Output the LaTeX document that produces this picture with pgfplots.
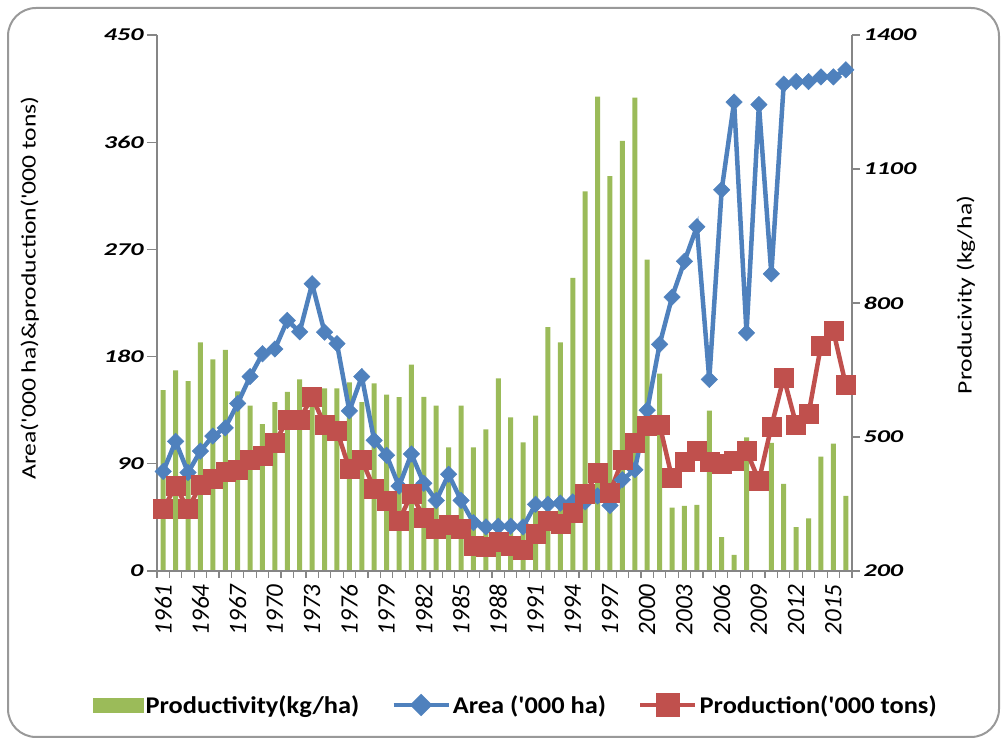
\documentclass[border=0pt]{standalone}
\usepackage{pgfplots}
\usepackage{pgfplotstable}
\pgfplotsset{compat=1.18}
\usepackage{fontspec}
\setmainfont{Carlito}
\newfontfamily\tickfont[FakeStretch=1.45]{Carlito}
\newfontfamily\labelfont[FakeStretch=1.25]{Carlito}
\newfontfamily\legendfont[FakeStretch=1.1]{Carlito}
\definecolor{bargreen}{HTML}{9BBB59}
\definecolor{areablue}{HTML}{4F81BD}
\definecolor{prodred}{HTML}{C0504D}
\definecolor{axgray}{HTML}{868686}

\pgfplotstableread{
year prod area production
1961 605 83.6 52
1962 649 108.8 71.2
1963 625 82.7 52
1964 712 100.7 72.1
1965 674 113.3 77.2
1966 695 120.2 83.3
1967 602 140.7 85
1968 570 163.2 93.2
1969 529 182.4 96.8
1970 578 186.4 107.6
1971 601 210.4 127.1
1972 629 200.8 127.1
1973 600 241.1 146.4
1974 609 200.5 122.6
1975 609 190.9 117.8
1976 622 134.4 85.7
1977 578 163.2 93.2
1978 620 109.7 69.1
1979 595 97.1 58.6
1980 589 71.2 42.1
1981 662 98.3 64.6
1982 590 73.6 45.1
1983 570 59.2 35.2
1984 477 81.2 39.1
1985 570 59.2 35.2
1986 477 40.6 21
1987 517 37 20.1
1988 631 37.6 24.9
1989 544 37.6 21
1990 488 37 18
1991 548 56 31.6
1992 746 56 42.1
1993 712 57 40
1994 856 58 49
1995 1050 58 64.6
1996 1262 63 82.7
1997 1084 55 66.1
1998 1163 76.6 93.2
1999 1260 85 107.6
2000 897 135 121.7
2001 642 190.3 122.6
2002 342 230 78.1
2003 346 260 91.7
2004 348 289 101.3
2005 559 160.8 91.7
2006 276 320 90.2
2007 236 393.7 92.6
2008 499 199.9 100.7
2009 190 391.6 76
2010 487 249.5 121.1
2011 395 408.8 162.3
2012 298 410.9 123.2
2013 318 410.9 131.7
2014 456 414.8 189.4
2015 485 414.8 201.4
2016 368 420.8 156.3
}\datatable

\begin{document}
\begin{tikzpicture}[x=1pt,y=1pt]
\path (0,0) rectangle (1005,741);
\draw[rounded corners=28pt, line width=2pt, color=black!40] (8,4) rectangle (999,733);

% productivity bars on right axis
\begin{axis}[
  at={(157pt,170pt)}, anchor=south west, scale only axis,
  width=695pt, height=536pt,
  xmin=1960.5, xmax=2016.5, ymin=200, ymax=1400,
  axis x line=none, axis y line*=right,
  axis line style={axgray, line width=1.6pt},
  ytick={200,500,800,1100,1400},
  tick align=outside, major tick length=8pt,
  ytick style={axgray, line width=1.2pt},
  /pgf/number format/.cd, 1000 sep={}, assume math mode=true, /pgfplots/.cd,
  yticklabel style={font=\tickfont\bfseries\itshape\fontsize{18}{18}\selectfont, black},
  ylabel={Producivity (kg/ha)},
  every axis y label/.style={at={(axis description cs:1.164,0.515)}, anchor=center, rotate=90, font=\labelfont\fontsize{20.5}{20.5}\selectfont},
  ybar, bar width=5pt,
  clip=true,
]
\addplot[fill=bargreen, draw=none] table[x=year, y=prod]{\datatable};
\end{axis}

% area & production on left axis
\begin{axis}[
  at={(157pt,170pt)}, anchor=south west, scale only axis,
  width=695pt, height=536pt,
  xmin=1960.5, xmax=2016.5, ymin=0, ymax=450,
  axis x line*=bottom, axis y line*=left,
  axis line style={axgray, line width=1.6pt},
  ytick={0,90,180,270,360,450},
  xtick={1961,1964,...,2015},
  minor xtick={1960.5,1961.5,...,2016.5},
  tick align=outside, major tick length=10pt, minor tick length=7pt,
  major x tick style={draw=none},
  ytick style={axgray, line width=1.2pt},
  minor x tick style={axgray, line width=1.2pt},
  /pgf/number format/.cd, 1000 sep={}, assume math mode=true, /pgfplots/.cd,
  yticklabel style={font=\tickfont\bfseries\itshape\fontsize{18}{18}\selectfont, black},
  xticklabel style={font=\itshape\fontsize{25}{25}\selectfont, rotate=90, anchor=east, black},
  ylabel={Area('000 ha)\&production('000 tons)},
  every axis y label/.style={at={(axis description cs:-0.183,0.528)}, anchor=center, rotate=90, font=\labelfont\fontsize{20.5}{20.5}\selectfont},
  legend style={at={(0.5165,-0.25)}, anchor=center, draw=none, fill=none,
    legend columns=3, font=\legendfont\bfseries\fontsize{24}{24}\selectfont,
    /tikz/every even column/.append style={column sep=30pt}},
  clip=false,
]
\addlegendimage{legend image code/.code={\fill[bargreen] (0pt,-7pt) rectangle (50pt,7pt);}}
\addlegendentry{Productivity(kg/ha)}
\addplot[areablue, line width=4.5pt, mark=square*, mark size=5.8pt,
  mark options={solid, rotate=45, fill=areablue, draw=areablue, line width=0.5pt},
  legend image code/.code={\draw[areablue,line width=4.5pt] (0pt,0pt)--(55pt,0pt);
    \fill[areablue] (27.5pt,8pt)--(35.5pt,0pt)--(27.5pt,-8pt)--(19.5pt,0pt)--cycle;}]
  table[x=year, y=area]{\datatable};
\addlegendentry{Area ('000 ha)}
\addplot[prodred, line width=4.5pt, mark=square*, mark size=9.5pt,
  mark options={solid, fill=prodred, draw=prodred, line width=0.5pt},
  legend image code/.code={\draw[prodred,line width=4.5pt] (0pt,0pt)--(55pt,0pt);
    \fill[prodred] (17.5pt,-10pt) rectangle (37.5pt,10pt);}]
  table[x=year, y=production]{\datatable};
\addlegendentry{Production('000 tons)}
\end{axis}
\end{tikzpicture}
\end{document}
